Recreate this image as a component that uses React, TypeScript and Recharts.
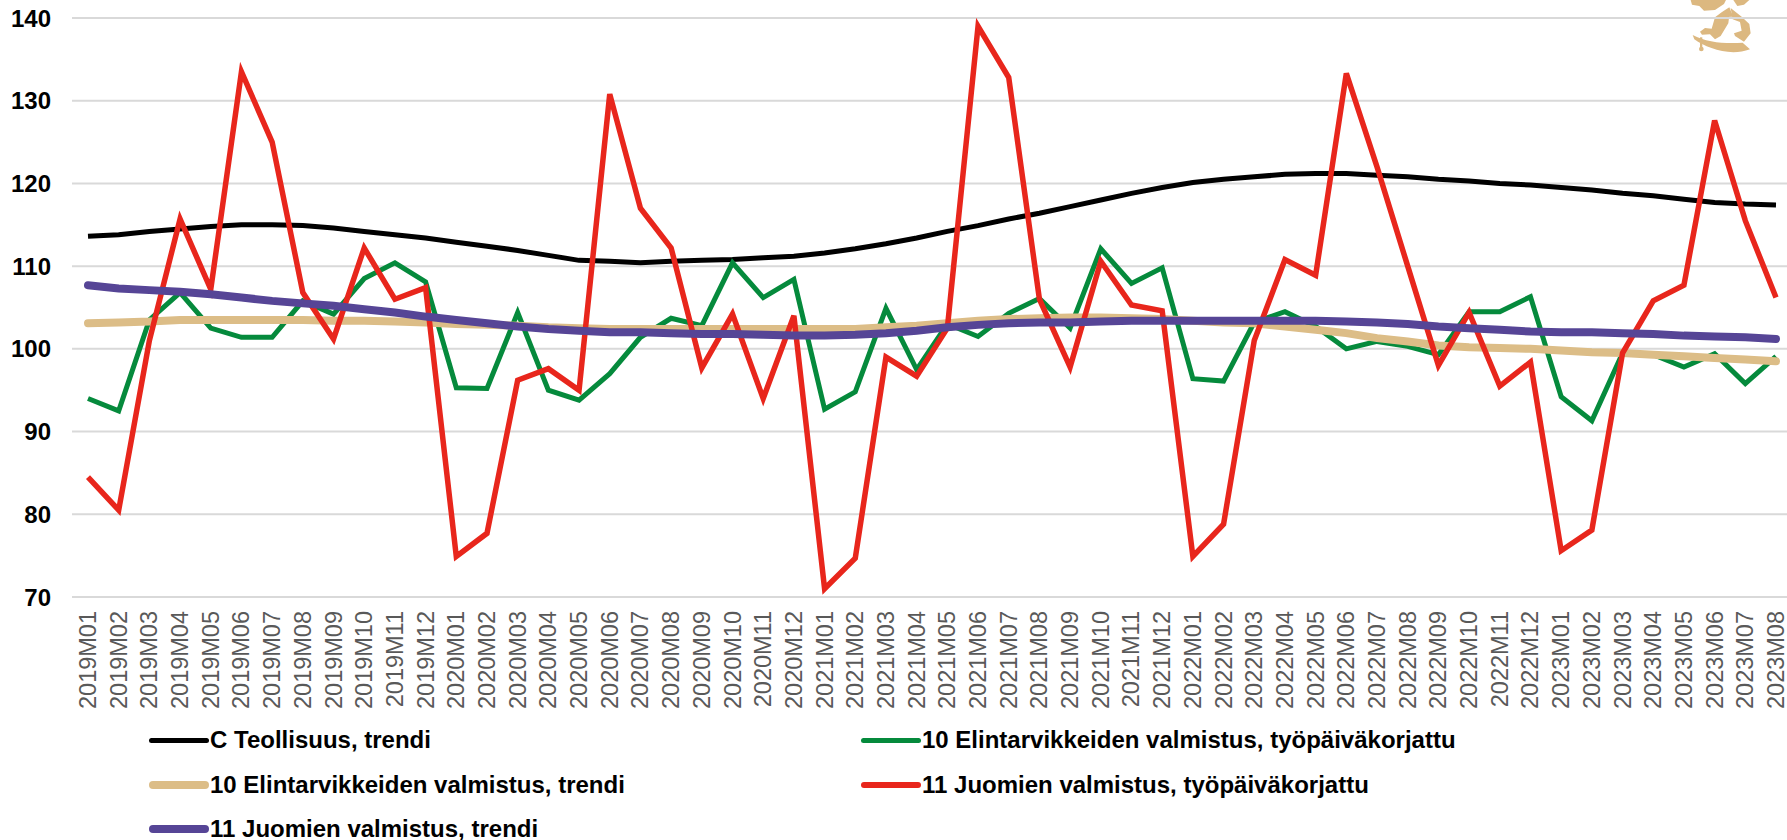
import { LineChart, Line, XAxis, YAxis, CartesianGrid, Legend } from "recharts";

const years = ["2019", "2020", "2021", "2022", "2023"];
const months = ["01", "02", "03", "04", "05", "06", "07", "08", "09", "10", "11", "12"];
const categories = years.flatMap((y) => months.map((m) => `${y}M${m}`)).slice(0, 56);

const teollisuusTrendi = [
  113.6, 113.8, 114.2, 114.5, 114.8, 115, 115, 114.9, 114.6, 114.2, 113.8, 113.4,
  112.9, 112.4, 111.9, 111.3, 110.7, 110.6, 110.4, 110.6, 110.7, 110.8, 111, 111.2,
  111.6, 112.1, 112.7, 113.4, 114.2, 114.9, 115.7, 116.4, 117.2, 118, 118.8, 119.5,
  120.1, 120.5, 120.8, 121.1, 121.2, 121.2, 121, 120.8, 120.5, 120.3, 120, 119.8,
  119.5, 119.2, 118.8, 118.5, 118.1, 117.7, 117.5, 117.4,
];
const elintarvikeKorjattu = [
  94, 92.5, 103.5, 106.8, 102.5, 101.4, 101.4, 105.8, 104.2, 108.5, 110.4, 108.1,
  95.3, 95.2, 104.4, 95, 93.8, 97, 101.4, 103.7, 102.8, 110.4, 106.2, 108.4,
  92.7, 94.8, 104.9, 97.5, 103, 101.5, 104.3, 106.1, 102.5, 112.1, 107.9, 109.8,
  96.4, 96.1, 103.2, 104.5, 102.7, 100, 100.9, 100.3, 99.3, 104.5, 104.5, 106.3,
  94.2, 91.3, 99.5, 99.3, 97.8, 99.4, 95.8, 99.1,
];
const elintarvikeTrendi = [
  103.1, 103.2, 103.3, 103.5, 103.5, 103.5, 103.5, 103.5, 103.4, 103.4, 103.3, 103.2,
  103, 102.9, 102.8, 102.6, 102.5, 102.4, 102.4, 102.4, 102.4, 102.4, 102.4, 102.4,
  102.4, 102.4, 102.6, 102.8, 103.1, 103.4, 103.6, 103.7, 103.8, 103.8, 103.7, 103.6,
  103.4, 103.2, 103.1, 102.7, 102.3, 101.9, 101.3, 100.9, 100.4, 100.2, 100.1, 100,
  99.8, 99.6, 99.5, 99.3, 99.1, 98.9, 98.7, 98.5,
];
const juomaKorjattu = [
  84.5, 80.5, 101, 115.7, 107.2, 133.5, 125, 106.8, 101.2, 112.2, 106, 107.4,
  74.9, 77.7, 96.2, 97.6, 95, 130.8, 117, 112.2, 97.7, 104.2, 94, 104,
  71, 74.7, 99, 96.7, 102.5, 139, 132.8, 106, 97.8, 110.6, 105.3, 104.6,
  74.9, 78.8, 101, 110.8, 108.9, 133.3, 122, 110, 98, 104.4, 95.5, 98.4,
  75.6, 78.1, 99.5, 105.8, 107.7, 127.6, 115.5, 106.2,
];
const juomaTrendi = [
  107.7, 107.3, 107.1, 106.9, 106.6, 106.2, 105.8, 105.5, 105.2, 104.8, 104.4, 103.9,
  103.5, 103.1, 102.7, 102.4, 102.2, 102, 102, 101.9, 101.8, 101.8, 101.7, 101.6,
  101.6, 101.7, 101.9, 102.2, 102.6, 102.9, 103.1, 103.2, 103.2, 103.3, 103.4, 103.4,
  103.4, 103.4, 103.4, 103.4, 103.4, 103.3, 103.2, 103, 102.7, 102.5, 102.3, 102.1,
  102, 102, 101.9, 101.8, 101.6, 101.5, 101.4, 101.2,
];
const yTicks = [70, 80, 90, 100, 110, 120, 130, 140];

const data = categories.map((kk, i) => ({
  kk,
  c: teollisuusTrendi[i],
  e: elintarvikeKorjattu[i],
  et: elintarvikeTrendi[i],
  j: juomaKorjattu[i],
  jt: juomaTrendi[i],
}));

const font = "'Liberation Sans', Arial, sans-serif";

function MonthTick({ x, y, payload }: any) {
  return (
    <text
      transform={`translate(${x + 8},${y + 6}) rotate(-90)`}
      textAnchor="end"
      fontFamily={font}
      fontSize={23.5}
      fill="#595959"
    >
      {payload.value}
    </text>
  );
}

// legend slots, filled row by row like the original
const legendPos = [
  [149, -2],
  [861, -2],
  [149, 43],
  [861, 43],
  [149, 87],
];

function ChartLegend({ payload }: any) {
  return (
    <div style={{ position: "relative", height: 110 }}>
      {(payload || []).map((p: any, i: number) => (
        <div
          key={p.value}
          style={{
            position: "absolute",
            left: legendPos[i][0],
            top: legendPos[i][1],
            display: "flex",
            alignItems: "center",
            fontFamily: font,
            fontWeight: 700,
            fontSize: 24,
            lineHeight: "24px",
            color: "#000",
            whiteSpace: "nowrap",
          }}
        >
          <span
            style={{
              width: 60,
              height: p.payload.strokeWidth,
              borderRadius: 4,
              background: p.color,
              marginRight: 1,
            }}
          />
          {p.value}
        </div>
      ))}
    </div>
  );
}

function Leijona() {
  // rough outline of the lion emblem, cut off by the top of the page
  return (
    <svg width={187} height={80} style={{ position: "absolute", left: 1600, top: 0 }}>
      <g fill="#dcb880" transform="scale(0.3333)">
        <path d="M272 0 L276 14 L298 18 L312 32 L345 30 L372 12 L378 0 Z" />
        <path d="M400 0 L412 18 L432 14 L448 0 Z" />
        <path d="M388 22 L400 50 L345 52 L366 36 Z" />
        <path d="M345 52 L388 46 L385 70 L362 108 L345 118 L330 103 L306 104 L300 95 L315 84 L335 86 Z" />
        <path d="M392 24 L425 50 L448 72 L452 100 L432 125 L405 108 L402 100 L425 92 L420 66 L398 58 Z" />
        <path d="M278 105 C320 128 380 132 428 128 L450 148 C390 170 320 145 283 118 Z" />
        <circle cx="304" cy="147" r="7" />
        <rect x="300" y="112" width="7" height="30" />
      </g>
    </svg>
  );
}

export default function App() {
  return (
    <div
      style={{
        position: "absolute",
        left: 0,
        top: 0,
        width: 1787,
        height: 840,
        overflow: "hidden",
        background: "#fff",
      }}
    >
      <Leijona />
      <LineChart
        width={1791}
        height={840}
        data={data}
        margin={{ top: 18, right: 0, bottom: 0, left: 0 }}
      >
        <CartesianGrid vertical={false} stroke="#d9d9d9" strokeWidth={2} />
        <XAxis
          dataKey="kk"
          interval={0}
          height={133}
          padding={{ left: 16, right: 15 }}
          tick={<MonthTick />}
          tickLine={false}
          axisLine={false}
        />
        <YAxis
          width={72}
          domain={[70, 140]}
          ticks={yTicks}
          tickLine={false}
          axisLine={false}
          tickMargin={15}
          tick={{ fontFamily: font, fontSize: 24, fontWeight: 700, fill: "#000" }}
        />
        <Legend verticalAlign="bottom" height={110} itemSorter={null} content={<ChartLegend />} />
        <Line dataKey="c" name="C Teollisuus, trendi" stroke="#000000" strokeWidth={5} dot={false} isAnimationActive={false} />
        <Line dataKey="e" name="10 Elintarvikkeiden valmistus, työpäiväkorjattu" stroke="#058a3c" strokeWidth={5} dot={false} isAnimationActive={false} />
        <Line dataKey="et" name="10 Elintarvikkeiden valmistus, trendi" stroke="#dcbd87" strokeWidth={8} strokeLinecap="round" dot={false} isAnimationActive={false} />
        <Line dataKey="j" name="11 Juomien valmistus, työpäiväkorjattu" stroke="#e8261c" strokeWidth={5.5} dot={false} isAnimationActive={false} />
        <Line dataKey="jt" name="11 Juomien valmistus, trendi" stroke="#564596" strokeWidth={8} strokeLinecap="round" dot={false} isAnimationActive={false} />
      </LineChart>
    </div>
  );
}
